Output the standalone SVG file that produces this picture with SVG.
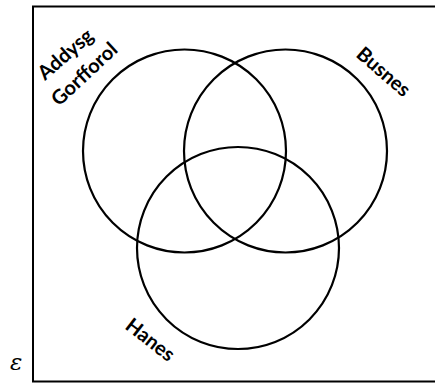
<svg xmlns="http://www.w3.org/2000/svg" width="435" height="383" viewBox="0 0 435 383">
<style>
.set{fill:none;stroke:#000;stroke-width:2.2}
.lbl{font-family:Lato,"Open Sans","Liberation Sans",sans-serif;font-weight:bold;font-size:20px;fill:#000}
</style>
<rect x="0" y="0" width="435" height="383" fill="#fff"/>
<g id="universe">
<rect x="33" y="6.5" width="420" height="375" fill="none" stroke="#000" stroke-width="2"/>
<text x="10" y="370" font-family="'DejaVu Serif',serif" font-style="italic" font-size="23">ε</text>
</g>
<g id="addysg-gorfforol">
<circle class="set" cx="184.5" cy="151" r="101.5"/>
<text class="lbl" transform="translate(45,81) rotate(-41)">Addysg</text>
<text class="lbl" transform="translate(59,107) rotate(-43)">Gorfforol</text>
</g>
<g id="busnes">
<circle class="set" cx="285.5" cy="151" r="101.5"/>
<text class="lbl" transform="translate(355,56) rotate(41)">Busnes</text>
</g>
<g id="hanes">
<circle class="set" cx="238" cy="248" r="101"/>
<text class="lbl" transform="translate(124,328) rotate(38)">Hanes</text>
</g>
<g id="connectors"/>
</svg>
